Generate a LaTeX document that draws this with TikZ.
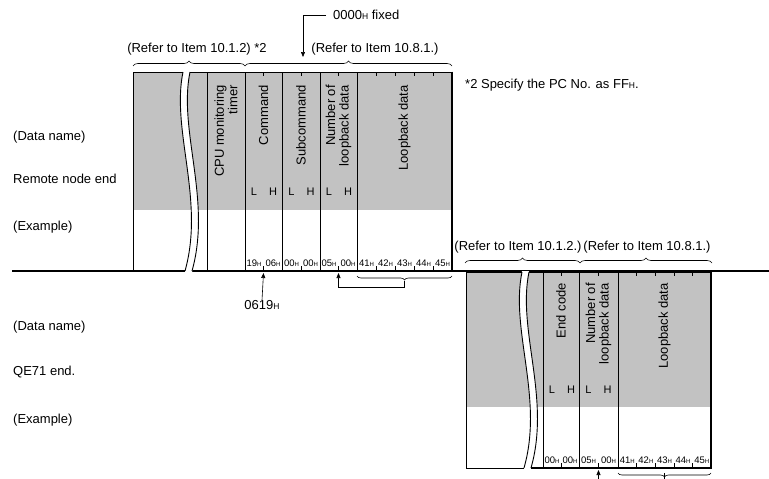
\documentclass[tikz,border=0pt]{standalone}
\usepackage{fontspec}
\setmainfont{Liberation Sans}
\usetikzlibrary{arrows.meta, calc, decorations.pathreplacing}

\newcommand{\hx}[1][8.5]{{\fontsize{#1}{#1}\selectfont H}}

\begin{document}
\begin{tikzpicture}[x=1pt, y=-1pt, >={Triangle[length=5pt, width=4pt]},
  every node/.style={font=\fontsize{13}{14.5}\selectfont, inner sep=0pt},
  shaded/.style={fill=black!24},
  field/.style={rotate=90, anchor=east, align=right, font=\fontsize{13}{13.5}\selectfont},
  byteval/.style={font=\fontsize{9.5}{10}\selectfont},
  lhmark/.style={font=\fontsize{11}{11}\selectfont},
  refbrace/.style={decorate, decoration={brace, amplitude=5pt}, line width=0.6pt},
  rule/.style={line width=0.6pt}]
  \useasboundingbox (0,0) rectangle (769,479);
  \clip (0,0) rectangle (769,479);

  % left side labels
  \node[anchor=west] (dname1) at (13,137) {(Data name)};
  \node[anchor=west] (remote) at (13,179) {Remote node end};
  \node[anchor=west] (example1) at (13,227) {(Example)};
  \node[anchor=west] (dname2) at (13,327) {(Data name)};
  \node[anchor=west] (qe) at (13,372) {QE71 end.};
  \node[anchor=west] (example2) at (13,420) {(Example)};

  % remote node end frame
  \fill[shaded] (133,72) rectangle (452,210);
  \draw[line width=1.3pt] (12,271) -- (769,271);
  \fill[white] (183,72) .. controls (171,130) and (205,200) .. (185,272) -- (192,272) .. controls (212,200) and (178,130) .. (190,72) -- cycle;
  \draw[line width=0.9pt] (183,72) -- (133,72) -- (133,271);
  \draw[line width=0.9pt] (183,72) .. controls (171,130) and (205,200) .. (185,271);
  \draw[line width=0.9pt] (190,72) .. controls (178,130) and (212,200) .. (192,271);
  \draw[line width=0.9pt] (190,72) -- (452,72);
  \draw[line width=2pt] (452,71.5) -- (452,271);
  \foreach \x in {207,245,282,320,357}
    \draw[rule] (\x,72) -- (\x,271);
  \foreach \x in {263.5,301,338.5,376,395,414,433} {
    \draw[rule] (\x,271) -- (\x,266);
    \draw[rule] (\x,72) -- (\x,76);
  }
  \node[field] (cpu) at (226,85) {CPU monitoring\\timer};
  \node[field] (cmd) at (263.5,85) {Command};
  \node[field] (subcmd) at (301,85) {Subcommand};
  \node[field] (num1) at (338.5,85) {Number of\\loopback data};
  \node[field] (loop1) at (404.5,85) {Loopback data};
  \foreach \x in {254,291.5,329} {
    \node[lhmark] at (\x,192) {L};
    \node[lhmark] at (\x+19,192) {H};
  }
  \foreach \x/\v [count=\i] in {254/19,273/06,291.5/00,310.5/00,329/05,348/00,366.5/41,385.5/42,404.5/43,423.5/44,442.5/45}
    \node[byteval] (rb\i) at (\x,263) {\v\hx[6]};

  \draw[refbrace] (133,66) -- (245,66);
  \draw[refbrace] (245,66) -- (452,66);
  \node (ref1a) at (197,49) {(Refer to Item 10.1.2) *2};
  \node (ref1b) at (375,49) {(Refer to Item 10.8.1.)};
  \node[anchor=west, inner xsep=7pt] (fixed) at (326,15) {0000\hx{} fixed};
  \coordinate (cmdtop) at (303,57);
  \draw[->, rule] (fixed.west) -| (cmdtop);
  \node[anchor=west] (note2) at (465,85) {*2 Specify the PC No. as FF\hx.};

  \node (hex0619) at (262,305) {0619\hx};
  \coordinate (cmdtick) at (263.5,273);
  \draw[->, rule] (hex0619.north) -- (cmdtick);
  \draw[refbrace, decoration={amplitude=4pt}] (452,276) -- (357,276) coordinate[midway] (loopmid1);
  \coordinate (loopbot1) at ($(loopmid1)+(0,5)$);
  \coordinate (numtick1) at (338.5,273);
  \draw[->, rule] (loopbot1) -- ++(0,6) -| (numtick1);

  % QE71 end frame
  \draw[refbrace] (465,263) -- (580,263);
  \draw[refbrace] (580,263) -- (712,263);
  \node (ref2a) at (518,247) {(Refer to Item 10.1.2.)};
  \node (ref2b) at (647,247) {(Refer to Item 10.8.1.)};
  \fill[shaded] (466,272) rectangle (711,407);
  \fill[white] (522,271) .. controls (510,330) and (544,398) .. (524,469) -- (531,469) .. controls (551,398) and (517,330) .. (529,271) -- cycle;
  \draw[line width=0.9pt] (522,272) -- (466,272) -- (466,468) -- (524,468);
  \draw[line width=0.9pt] (522,272) .. controls (510,330) and (544,398) .. (524,468);
  \draw[line width=0.9pt] (529,272) .. controls (517,330) and (551,398) .. (531,468);
  \draw[line width=0.9pt] (529,272) -- (711,272);
  \draw[line width=1.6pt] (531,468) -- (711,468);
  \draw[line width=2pt] (711,271.5) -- (711,469);
  \foreach \x in {543,579,618}
    \draw[rule] (\x,272) -- (\x,468);
  \foreach \x in {561,598.5,636.6,655.2,673.8,692.4} {
    \draw[rule] (\x,468) -- (\x,463);
    \draw[rule] (\x,272) -- (\x,276);
  }
  \node[field] (endcode) at (561,283) {End code};
  \node[field] (num2) at (598.5,283) {Number of\\loopback data};
  \node[field] (loop2) at (664.5,283) {Loopback data};
  \foreach \x in {552,588.5} {
    \node[lhmark] at (\x,390) {L};
    \node[lhmark] at (\x+19,390) {H};
  }
  \foreach \x/\v [count=\i] in {552/00,570/00,588.5/05,608.5/00,627.3/41,645.9/42,664.5/43,683.1/44,701.7/45}
    \node[byteval] (qb\i) at (\x,460) {\v\hx[6]};
  \draw[refbrace, decoration={amplitude=4pt}] (711,473) -- (618,473) coordinate[midway] (loopmid2);
  \coordinate (loopbot2) at ($(loopmid2)+(0,12)$);
  \draw[rule] (loopmid2) -- (loopbot2);
  \coordinate (numtick2) at (598.5,470);
  \coordinate (numbot2) at (598.5,485);
  \draw[->, rule] (numbot2) -- (numtick2);
\end{tikzpicture}
\end{document}
